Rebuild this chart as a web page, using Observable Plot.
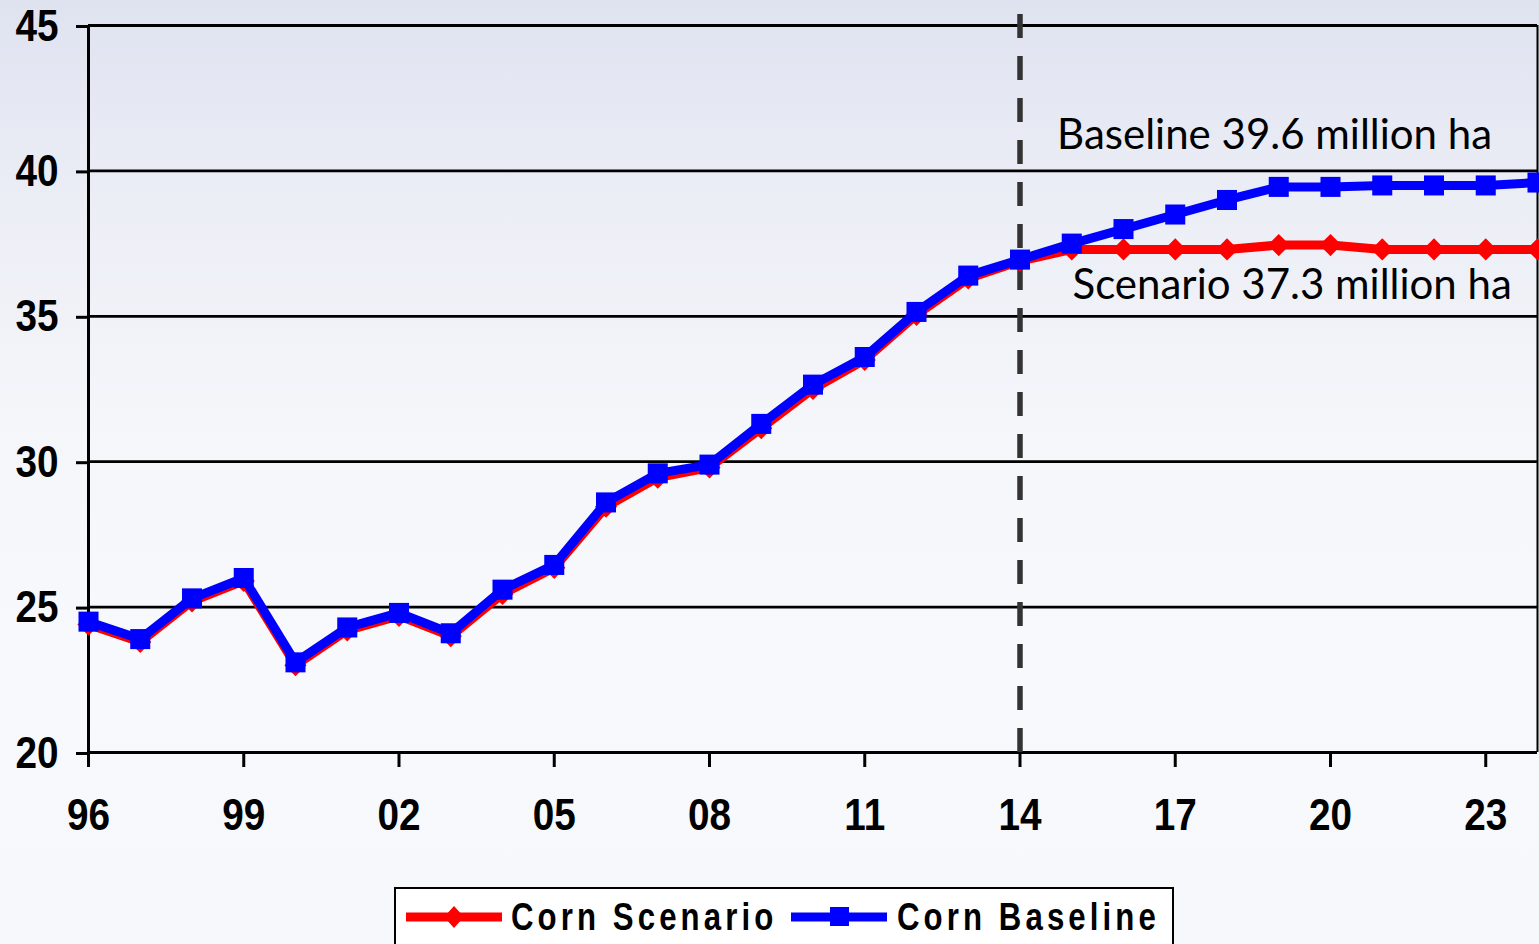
<!DOCTYPE html>
<html><head><meta charset="utf-8">
<script src="https://cdn.jsdelivr.net/npm/d3@7"></script>
<script src="https://cdn.jsdelivr.net/npm/@observablehq/plot@0.6"></script>
<style>
html,body{margin:0;padding:0;width:1539px;height:944px;overflow:hidden;}
body{position:relative;background:linear-gradient(180deg,#dfe3f0 0%,#eceef6 22%,#f5f6fa 45%,#f8f9fc 70%,#f7f8fb 100%);}
#chart{position:absolute;left:0;top:0;}
#chart svg{overflow:visible;}
.tick-font text{font-family:"Liberation Sans",Arial,sans-serif;font-weight:bold;}
#legend{position:absolute;left:394px;top:887px;width:780px;height:66px;box-sizing:border-box;border:2.5px solid #000;background:#fff;
  font-family:"Liberation Sans",Arial,sans-serif;font-weight:bold;font-size:38px;letter-spacing:5px;color:#000;white-space:nowrap;}
#legend .item{position:absolute;top:0;height:56px;display:flex;align-items:center;}
#legend .label{transform:scaleX(0.82);transform-origin:left center;}
#legend svg{display:block;}
</style>
</head><body>
<div id="chart"></div>
<div id="legend"></div>
<script>
// ---- data ----
const years = [1996,1997,1998,1999,2000,2001,2002,2003,2004,2005,2006,2007,2008,2009,2010,2011,2012,2013,2014,2015,2016,2017,2018,2019,2020,2021,2022,2023,2024];
const cornScenario = [24.4,23.8,25.2,25.9,23.0,24.2,24.7,24.0,25.45,26.35,28.45,29.45,29.8,31.15,32.5,33.5,35.05,36.3,36.9,37.3,37.3,37.3,37.3,37.45,37.45,37.3,37.3,37.3,37.3];
const cornBaseline = [24.5,23.9,25.3,26.0,23.1,24.3,24.8,24.1,25.6,26.45,28.6,29.6,29.9,31.3,32.65,33.6,35.15,36.4,36.95,37.5,38.0,38.5,39.0,39.45,39.45,39.5,39.5,39.5,39.6];
const xTicks = [1996,1999,2002,2005,2008,2011,2014,2017,2020,2023];
const xTickLabels = ["96","99","02","05","08","11","14","17","20","23"];
const yTicks = [20,25,30,35,40,45];
const seriesNames = ["Corn Scenario","Corn Baseline"];
const seriesColors = ["#ff0000","#0000ff"];
const projectionStart = 2014;
const annotationLabels = ["Baseline 39.6 million ha","Scenario 37.3 million ha"];

const scen = years.map((y,i)=>({year:y,value:cornScenario[i]}));
const base = years.map((y,i)=>({year:y,value:cornBaseline[i]}));
const gridVals = yTicks.filter(v=>v>20);

const plot = Plot.plot({
  width:1539, height:870,
  marginLeft:88, marginRight:2, marginTop:25, marginBottom:118,
  style:{background:"transparent", overflow:"visible"},
  x:{domain:[1996,2024], label:null},
  y:{domain:[20,45], label:null},
  marks:[
    Plot.ruleY(gridVals,{stroke:"#000",strokeWidth:2.8}),
    Plot.ruleY([20],{stroke:"#000",strokeWidth:3}),
    Plot.ruleX([1996],{y1:20,y2:45,stroke:"#000",strokeWidth:3}),
    Plot.ruleX([2024],{y1:20,y2:45,stroke:"#000",strokeWidth:2}),
    Plot.axisY({ticks:yTicks, tickSize:12, tickPadding:18, strokeWidth:3, fontSize:44, dy:1, className:"tick-font"}),
    Plot.axisX({ticks:xTicks, tickFormat:d=>xTickLabels[xTicks.indexOf(d)], tickSize:15, tickPadding:31, strokeWidth:3, fontSize:44, className:"tick-font"}),
    Plot.ruleX([projectionStart],{y1:20,y2:45.7,stroke:"#333",strokeWidth:5.5,strokeDasharray:"24,18"}),
    Plot.line(scen,{x:"year",y:"value",stroke:seriesColors[0],strokeWidth:9,strokeLinejoin:"round"}),
    Plot.dot(scen,{x:"year",y:"value",symbol:"diamond2",r:10,fill:seriesColors[0],stroke:null}),
    Plot.line(base,{x:"year",y:"value",stroke:seriesColors[1],strokeWidth:9,strokeLinejoin:"round"}),
    Plot.dot(base,{x:"year",y:"value",symbol:"square",r:11.3,fill:seriesColors[1],stroke:null}),
    Plot.text([annotationLabels[0]],{x:()=>2018.92,y:()=>41.2,text:d=>d,fontSize:42,fill:"#000",textAnchor:"middle",fontFamily:"Lato, 'Open Sans', sans-serif"}),
    Plot.text([annotationLabels[1]],{x:()=>2019.26,y:()=>36.05,text:d=>d,fontSize:42,fill:"#000",textAnchor:"middle",fontFamily:"Lato, 'Open Sans', sans-serif"})
  ]
});
document.getElementById("chart").appendChild(plot);
// condense the bold tick labels horizontally (narrow-font look)
d3.select(plot).selectAll(".tick-font text").each(function(){
  const t = this.getAttribute("transform") || "";
  this.setAttribute("transform", t + " scale(0.88,1)");
});

// legend
const legend = document.getElementById("legend");
const pos = [{sw:10, tx:115},{sw:395, tx:501}];
seriesNames.forEach((name,i)=>{
  const sw = document.createElement("div");
  sw.className="item"; sw.style.left=pos[i].sw+"px";
  const marker = i===0
    ? `<polygon points="48,3 58,14 48,25 38,14" fill="${seriesColors[i]}"/>`
    : `<rect x="39" y="4" width="19" height="19" fill="${seriesColors[i]}"/>`;
  sw.innerHTML = `<svg width="96" height="28"><line x1="0" x2="96" y1="14" y2="14" stroke="${seriesColors[i]}" stroke-width="9"/>${marker}</svg>`;
  legend.appendChild(sw);
  const t = document.createElement("div");
  t.className="item"; t.style.left=pos[i].tx+"px";
  const s = document.createElement("span"); s.className="label"; s.textContent=name;
  t.appendChild(s);
  legend.appendChild(t);
});
</script>
</body></html>
